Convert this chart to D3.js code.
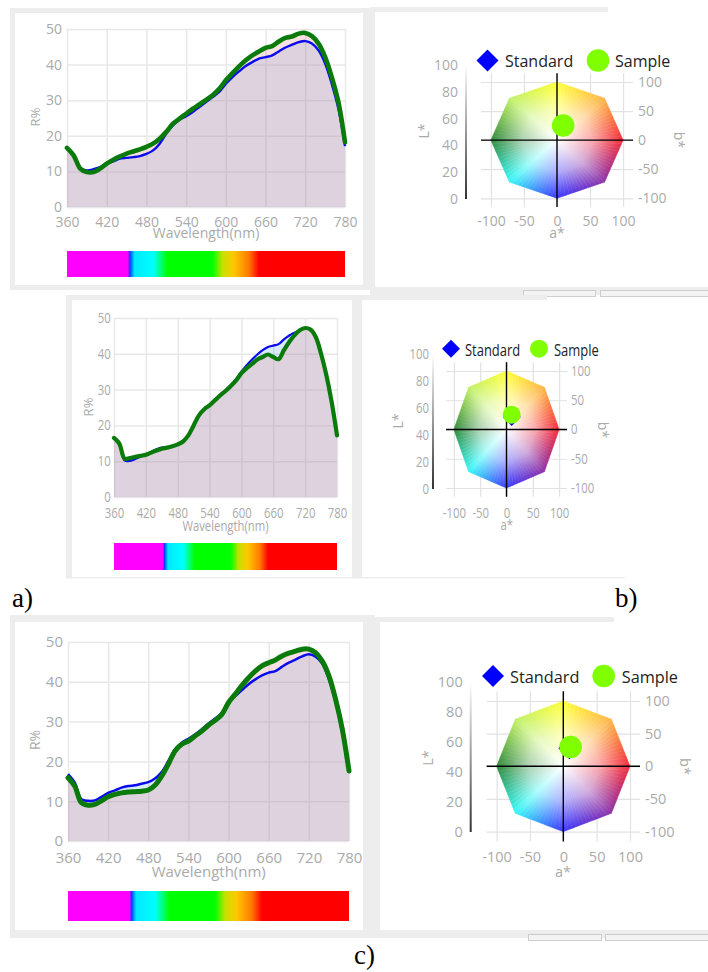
<!DOCTYPE html>
<html>
<head>
<meta charset="utf-8">
<script src="https://cdn.jsdelivr.net/npm/d3@7"></script>
<style>
  body { margin: 0; background: #fff; }
  svg { display: block; }
  text { font-family: 'Open Sans', sans-serif; }
  text.letter { font-family: 'Liberation Serif', 'Times New Roman', serif; }
</style>
</head>
<body>
<svg id="fig"></svg>
<script>
// wavelength grid (nm)
const wl = [360, 370, 380, 390, 400, 410, 420, 430, 440, 450, 460, 470, 480, 490, 500, 510, 520, 530, 540, 550,
  560, 570, 580, 590, 600, 610, 620, 630, 640, 650, 660, 670, 680, 690, 700, 710, 720, 730, 740, 750, 760, 770, 780];

// reflectance R% : standard / sample for the three fabrics
const stdA = [16.6, 14.7, 11.0, 10.3, 10.6, 11.2, 12.2, 12.8, 13.6, 13.8, 14.0, 14.3, 14.9, 15.9, 17.8, 20.6, 22.9, 24.5, 25.5, 26.7,
  28.1, 29.5, 30.9, 32.3, 34.6, 36.5, 38.1, 39.6, 40.7, 41.7, 42.1, 42.6, 43.7, 44.8, 45.6, 46.3, 46.6, 45.9, 44.0, 40.3, 34.6, 27.6, 17.1];
const smpA = [16.6, 14.5, 10.8, 9.8, 9.8, 10.8, 12.2, 13.3, 14.2, 15.0, 15.6, 16.2, 16.9, 17.8, 19.2, 21.1, 23.4, 24.8, 26.2, 27.6,
  28.8, 30.1, 31.4, 33.2, 35.6, 37.6, 39.5, 41.2, 42.6, 43.7, 44.7, 45.2, 46.5, 47.5, 47.9, 48.7, 48.9, 48.0, 45.9, 42.1, 36.5, 29.5, 18.2];
const stdB = [16.5, 14.9, 10.2, 10.1, 10.6, 11.3, 11.8, 12.6, 13.3, 13.8, 13.9, 14.2, 14.7, 15.5, 17.2, 20.0, 22.8, 24.6, 25.8, 27.2,
  28.5, 29.8, 31.2, 32.9, 35.0, 36.8, 38.4, 39.8, 41.0, 41.9, 42.3, 42.7, 44.0, 45.1, 45.9, 46.6, 47.2, 46.8, 44.7, 40.0, 34.0, 26.5, 17.2];
const smpB = [16.5, 14.9, 10.7, 10.9, 11.2, 11.5, 11.8, 12.4, 13.0, 13.5, 13.8, 14.2, 14.7, 15.5, 17.2, 20.0, 22.8, 24.5, 25.6, 27.0,
  28.4, 29.6, 31.0, 32.6, 34.6, 36.0, 37.2, 38.4, 39.1, 39.8, 39.1, 38.5, 41.0, 43.3, 45.2, 46.6, 47.2, 46.8, 44.7, 40.0, 34.0, 26.5, 17.2];
const stdC = [16.8, 14.7, 10.5, 10.1, 10.2, 11.1, 12.1, 12.7, 13.4, 13.8, 14.0, 14.4, 14.8, 15.7, 17.3, 20.1, 23.0, 24.7, 25.7, 26.8,
  28.1, 29.5, 30.8, 32.2, 34.9, 36.4, 37.9, 39.4, 40.6, 41.6, 42.3, 42.7, 43.8, 44.8, 45.6, 46.4, 46.9, 46.3, 44.6, 40.6, 34.8, 27.2, 17.2];
const smpC = [15.9, 13.8, 9.6, 9.0, 9.2, 10.1, 11.1, 11.7, 12.1, 12.3, 12.4, 12.5, 12.8, 14.0, 16.3, 19.3, 22.6, 24.3, 25.1, 26.4,
  27.6, 29.1, 30.3, 31.8, 34.8, 36.9, 39.1, 41.0, 42.7, 44.0, 44.8, 45.5, 46.5, 47.2, 47.7, 48.2, 48.2, 47.3, 45.2, 41.5, 35.6, 28.1, 17.6];

// a*, b* of standard and sample (A, B, C)
const stdLab = [[9.4, 25.3], [9.9, 21.5], [9.0, 27.6]];
const smpLab = [[9.4, 25.3], [9.9, 25.3], [11.0, 29.6]];

// ticks
const waveTicks = [360, 420, 480, 540, 600, 660, 720, 780];
const rTicks = [0, 10, 20, 30, 40, 50];
const abTicks = [-100, -50, 0, 50, 100];
const lTicks = [0, 20, 40, 60, 80, 100];

// spectrum strip colours
const specNm = [360, 452, 455, 462, 490, 512, 580, 595, 612, 635, 650, 780];
const specColors = ['#ff00ff', '#ff00ff', '#0040ff', '#00e8ff', '#00ffff', '#00ff00', '#00ff00', '#c8e000', '#ffc800', '#ff7800', '#ff0000', '#ff0000'];

// a*b* colour octagon (corners) and edge hue by angle
const octagon = [[100, 0], [72, 72], [0, 100], [-72, 72], [-100, 0], [-72, -72], [0, -100], [72, -72]];
const hueAngles = [0, 45, 90, 135, 180, 225, 270, 315, 360];
const hueColors = ['#f22a3a', '#ffb448', '#ffff38', '#c0f068', '#2f8a3a', '#38f8f8', '#3838ff', '#8c30a8', '#f22a3a'];

const gray = '#eeeded';
const labelCol = '#aaa';
const plain = d => String(d);

const svg = d3.select('#fig').attr('width', 708).attr('height', 972);
const defs = svg.append('defs');

let txt = (g, x, y, s, o = {}) => {
  let tf = `translate(${x},${y})`;
  if (o.rot) tf += ` rotate(${o.rot})`;
  if (o.sx && o.sx !== 1) tf += ` scale(${o.sx},1)`;
  return g.append('text')
    .attr('transform', tf)
    .attr('text-anchor', o.anchor || 'start')
    .attr('dy', o.dy || 0)
    .attr('font-size', o.size || 14)
    .attr('fill', o.color || labelCol)
    .text(s);
};

// ---------- panel frames ----------
let fr = svg.append('g');
let box = (x, y, w, h, fill) => fr.append('rect').attr('x', x).attr('y', y).attr('width', w).attr('height', h).attr('fill', fill || gray);
let button = (x, y, w, h) => fr.append('rect').attr('x', x).attr('y', y).attr('width', w).attr('height', h)
  .attr('fill', '#f3f3f3').attr('stroke', '#cdcdcd');

box(10, 8, 360, 282); box(15, 13, 348, 272, '#fff');
box(370, 7, 238, 5); box(370, 7, 5, 288); box(370, 287, 338, 8);
button(523.5, 290.5, 72, 6); button(600.5, 290.5, 110, 6);

box(66, 295, 292, 5); box(66, 295, 6, 283); box(352, 295, 6, 283); box(66, 577, 292, 1.5);
box(355, 295, 192, 5); box(355, 295, 7, 283); box(355, 577, 270, 1.5);

box(10, 615, 365, 323); box(15, 622, 348, 308, '#fff');
box(375, 617, 239, 5); box(375, 617, 5, 321); box(375, 930, 333, 8);
button(528.5, 934.5, 73, 6); button(605.5, 934.5, 105, 6);

// ---------- reflectance curves ----------
let drawSpectrum = (p) => {
  const g = svg.append('g');
  const x = d3.scaleLinear().domain([360, 780]).range([p.left, p.right]);
  const y = d3.scaleLinear().domain([0, 50]).range([p.bottom, p.top]);
  const h = p.bottom - p.top, w = p.right - p.left;

  g.append('g').attr('transform', `translate(0,${p.bottom})`)
    .call(d3.axisBottom(x).tickValues(waveTicks).tickSize(-h).tickFormat(''))
    .call(a => a.select('.domain').remove())
    .call(a => a.selectAll('line').attr('stroke', '#e8e8e8').attr('stroke-width', 1.5));
  g.append('g').attr('transform', `translate(${p.left},0)`)
    .call(d3.axisLeft(y).tickValues(rTicks).tickSize(-w).tickFormat(''))
    .call(a => a.select('.domain').remove())
    .call(a => a.selectAll('line').attr('stroke', '#e8e8e8').attr('stroke-width', 1.5));

  const curve = d3.curveCatmullRom.alpha(0.5);
  const area = d3.area().x((d, i) => x(wl[i])).y0(y(0)).y1(d => y(d)).curve(curve);
  const line = d3.line().x((d, i) => x(wl[i])).y(d => y(d)).curve(curve);

  g.append('path').datum(p.std).attr('d', area).attr('fill', 'rgb(55,155,230)').attr('fill-opacity', 0.2);
  g.append('path').datum(p.smp).attr('d', area).attr('fill', 'rgb(237,148,148)').attr('fill-opacity', 0.28);
  g.append('path').datum(p.std).attr('d', line).attr('fill', 'none').attr('stroke', '#0a0aee').attr('stroke-width', p.blueW);
  g.append('path').datum(p.smp).attr('d', line).attr('fill', 'none').attr('stroke', '#0a7a0a')
    .attr('stroke-width', p.greenW).attr('stroke-linejoin', 'round').attr('stroke-linecap', 'round');

  // tick labels
  const xa = g.append('g').attr('transform', `translate(0,${p.bottom})`)
    .call(d3.axisBottom(x).tickValues(waveTicks).tickSize(0).tickPadding(p.xPad).tickFormat(plain));
  const ya = g.append('g').attr('transform', `translate(${p.left},0)`)
    .call(d3.axisLeft(y).tickValues(rTicks).tickSize(0).tickPadding(p.yPad).tickFormat(plain));
  [xa, ya].forEach(a => {
    a.select('.domain').remove();
    a.attr('font-family', null).attr('font-size', p.size);
    a.selectAll('text').attr('fill', labelCol);
    if (p.sx !== 1) a.selectAll('text').attr('transform', `scale(${p.sx},1)`);
  });

  txt(g, p.titleX, p.titleY, 'Wavelength(nm)', { anchor: 'middle', size: p.size, sx: p.sx });
  txt(g, p.rX, p.rY, 'R%', { anchor: 'middle', size: p.size - 1, rot: -90, dy: '0.35em' });

  // visible spectrum strip
  const gid = 'spec-' + p.id;
  const grad = defs.append('linearGradient').attr('id', gid).attr('gradientUnits', 'userSpaceOnUse')
    .attr('x1', x(360)).attr('x2', x(780)).attr('y1', 0).attr('y2', 0);
  grad.selectAll('stop').data(specNm).join('stop')
    .attr('offset', d => (d - 360) / 420)
    .attr('stop-color', (d, i) => specColors[i]);
  g.append('rect').attr('x', x(360)).attr('width', x(780) - x(360))
    .attr('y', p.barTop).attr('height', p.barBot - p.barTop).attr('fill', `url(#${gid})`);
};

// ---------- CIELAB a*b* diagram ----------
const hueScale = d3.scaleLinear().domain(hueAngles).range(hueColors).interpolate(d3.interpolateRgb);

let edgePoint = (deg) => {
  const k = Math.floor(deg / 45) % 8;
  const A = octagon[k], B = octagon[(k + 1) % 8];
  const r = deg * Math.PI / 180, d = [Math.cos(r), Math.sin(r)];
  const e = [B[0] - A[0], B[1] - A[1]];
  const t = (A[0] * e[1] - A[1] * e[0]) / (d[0] * e[1] - d[1] * e[0]);
  return [t * d[0], t * d[1]];
};

let drawLab = (p, idx) => {
  const g = svg.append('g');
  const x = d3.scaleLinear().domain([-115, 115]).range([p.left, p.right]);
  const y = d3.scaleLinear().domain([-115, 115]).range([p.bottom, p.top]);
  const yL = d3.scaleLinear().domain([0, 100]).range(p.lRange);

  g.append('g').attr('transform', `translate(0,${p.bottom})`)
    .call(d3.axisBottom(x).tickValues(abTicks).tickSize(-(p.bottom - p.top)).tickFormat(''))
    .call(a => a.select('.domain').remove())
    .call(a => a.selectAll('line').attr('stroke', '#e2e2e2').attr('stroke-width', 1.2));
  g.append('g').attr('transform', `translate(${p.left},0)`)
    .call(d3.axisLeft(y).tickValues(abTicks).tickSize(-(p.right - p.left)).tickFormat(''))
    .call(a => a.select('.domain').remove())
    .call(a => a.selectAll('line').attr('stroke', '#e2e2e2').attr('stroke-width', 1.2));

  // colour octagon built from thin wedges, each fading from white at the centre
  const N = 96, step = 360 / N;
  const wedges = d3.range(N).map(i => i * step);
  const wg = g.append('g');
  wedges.forEach((a0, i) => {
    const p0 = edgePoint(a0), p1 = edgePoint(a0 + step - 1e-9), pm = edgePoint(a0 + step / 2);
    const col = hueScale(a0 + step / 2);
    const gid = `hue-${p.id}-${i}`;
    const lg = defs.append('linearGradient').attr('id', gid).attr('gradientUnits', 'userSpaceOnUse')
      .attr('x1', x(0)).attr('y1', y(0)).attr('x2', x(pm[0])).attr('y2', y(pm[1]));
    lg.append('stop').attr('offset', 0).attr('stop-color', '#fff');
    lg.append('stop').attr('offset', 0.55).attr('stop-color', d3.interpolateRgb('#fff', col)(0.42));
    lg.append('stop').attr('offset', 1).attr('stop-color', col);
    wg.append('path')
      .attr('d', d3.line()([[x(0), y(0)], [x(p0[0]), y(p0[1])], [x(p1[0]), y(p1[1])]]) + 'Z')
      .attr('fill', `url(#${gid})`).attr('stroke', `url(#${gid})`).attr('stroke-width', 0.6);
  });

  // zero axes
  g.append('line').attr('x1', x(-115)).attr('x2', x(115)).attr('y1', y(0)).attr('y2', y(0)).attr('stroke', '#000').attr('stroke-width', 1.4);
  g.append('line').attr('x1', x(0)).attr('x2', x(0)).attr('y1', y(-115)).attr('y2', y(115)).attr('stroke', '#000').attr('stroke-width', 1.4);

  // standard / sample points
  const diamond = d3.symbol(d3.symbolSquare, 2 * p.half * p.half);
  const s = stdLab[idx], m = smpLab[idx];
  g.append('path').attr('d', diamond()).attr('fill', '#0000ff')
    .attr('transform', `translate(${x(s[0])},${y(s[1])}) rotate(45)`);
  g.append('circle').attr('cx', x(m[0])).attr('cy', y(m[1])).attr('r', p.r).attr('fill', '#7fff00');

  // L* lightness bar
  const lid = 'lbar-' + p.id;
  const lb = defs.append('linearGradient').attr('id', lid).attr('gradientUnits', 'userSpaceOnUse')
    .attr('x1', 0).attr('x2', 0).attr('y1', yL(100)).attr('y2', yL(0));
  lb.append('stop').attr('offset', 0).attr('stop-color', '#fff');
  lb.append('stop').attr('offset', 1).attr('stop-color', '#333');
  g.append('rect').attr('x', p.lineX - 1).attr('width', 2).attr('y', yL(100)).attr('height', yL(0) - yL(100)).attr('fill', `url(#${lid})`);

  // tick labels
  const la = g.append('g').attr('transform', `translate(${p.lineX},0)`)
    .call(d3.axisLeft(yL).tickValues(lTicks).tickSize(0).tickPadding(p.lPad).tickFormat(plain));
  const aa = g.append('g').attr('transform', `translate(0,${p.bottom})`)
    .call(d3.axisBottom(x).tickValues(abTicks).tickSize(0).tickPadding(p.aPad).tickFormat(plain));
  const ba = g.append('g').attr('transform', `translate(${p.right},0)`)
    .call(d3.axisRight(y).tickValues(abTicks).tickSize(0).tickPadding(p.bPad).tickFormat(plain));
  [la, aa, ba].forEach(a => {
    a.select('.domain').remove();
    a.attr('font-family', null).attr('font-size', p.size);
    a.selectAll('text').attr('fill', labelCol);
    if (p.sx !== 1) a.selectAll('text').attr('transform', `scale(${p.sx},1)`);
  });

  txt(g, p.aTitle[0], p.aTitle[1], 'a*', { anchor: 'middle', size: p.size, sx: p.sx });
  txt(g, p.bTitle[0], p.bTitle[1], 'b*', { anchor: 'middle', size: p.size, rot: 90, dy: '0.35em' });
  txt(g, p.lTitle[0], p.lTitle[1], 'L*', { anchor: 'middle', size: p.size, rot: -90, dy: '0.35em' });

  // legend
  const lgd = p.legend;
  g.append('path').attr('d', diamond()).attr('fill', '#0000ff')
    .attr('transform', `translate(${lgd.dx},${lgd.y}) rotate(45)`);
  txt(g, lgd.stdX, lgd.base, 'Standard', { size: lgd.size, color: '#222', sx: p.sx });
  g.append('circle').attr('cx', lgd.cx).attr('cy', lgd.y).attr('r', p.r).attr('fill', '#7fff00');
  txt(g, lgd.smpX, lgd.base, 'Sample', { size: lgd.size, color: '#222', sx: p.sx });
};

drawSpectrum({ id: 'a', std: stdA, smp: smpA, left: 67, right: 345, top: 29, bottom: 207, size: 14, sx: 1,
  xPad: 10, yPad: 5, titleX: 206, titleY: 238, rX: 35, rY: 117, barTop: 251, barBot: 277, blueW: 2.4, greenW: 4.6 });
drawSpectrum({ id: 'b', std: stdB, smp: smpB, left: 114, right: 337, top: 318, bottom: 497, size: 14, sx: 0.81,
  xPad: 11, yPad: 4, titleX: 225.5, titleY: 531, rX: 88.5, rY: 407, barTop: 543, barBot: 570, blueW: 2.2, greenW: 4.2 });
drawSpectrum({ id: 'c', std: stdC, smp: smpC, left: 68, right: 349, top: 642, bottom: 841, size: 15, sx: 1,
  xPad: 11, yPad: 5, titleX: 208.7, titleY: 877, rX: 35, rY: 740, barTop: 891, barBot: 921, blueW: 2.5, greenW: 5 });

drawLab({ id: 'a', left: 481, right: 633, top: 73.3, bottom: 207, lRange: [199, 65], lineX: 466, lPad: 8, aPad: 9, bPad: 5,
  size: 14, sx: 1, half: 11, r: 11.3, aTitle: [557, 238], bTitle: [679, 140], lTitle: [424, 131],
  legend: { dx: 487.5, cx: 598, y: 60.5, stdX: 505, smpX: 615, base: 66.5, size: 16 } }, 0);
drawLab({ id: 'b', left: 446, right: 567, top: 362.2, bottom: 496.8, lRange: [489, 354], lineX: 433, lPad: 5, aPad: 11, bPad: 5,
  size: 14, sx: 0.81, half: 9, r: 9, aTitle: [506.7, 530], bTitle: [603, 430], lTitle: [398, 421],
  legend: { dx: 451, cx: 539, y: 348.7, stdX: 465, smpX: 554, base: 355.7, size: 16 } }, 1);
drawLab({ id: 'c', left: 486.6, right: 640, top: 691.2, bottom: 841.4, lRange: [832, 682], lineX: 470.7, lPad: 8, aPad: 10, bPad: 5,
  size: 14.5, sx: 1, half: 11, r: 11.3, aTitle: [563, 877], bTitle: [685.5, 766.5], lTitle: [428, 758],
  legend: { dx: 493, cx: 603.7, y: 676, stdX: 510, smpX: 621.7, base: 683.3, size: 16.3 } }, 2);

// sub-figure letters
[['a)', 12, 607], ['b)', 615, 607], ['c)', 354, 964]].forEach(d => {
  txt(svg, d[1], d[2], d[0], { size: 27, color: '#000' }).attr('class', 'letter');
});
</script>
</body>
</html>
